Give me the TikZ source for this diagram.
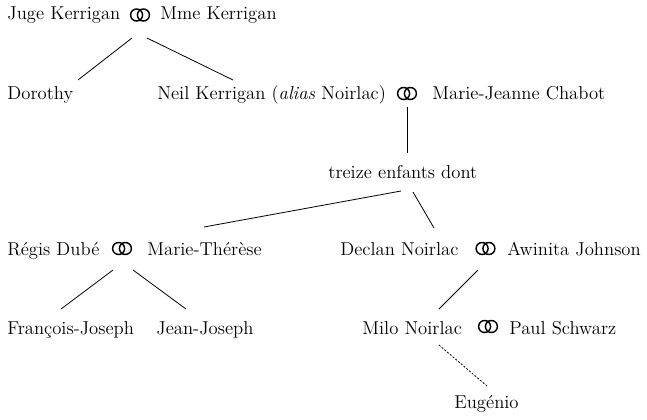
\documentclass[tikz,border=0pt]{standalone}
\usetikzlibrary{calc}

\begin{document}
\begin{tikzpicture}[x=0.75pt,y=-0.75pt, line width=0.6pt,
	pers/.style={inner sep=0pt, anchor=base west, font=\fontsize{14}{17}\selectfont},
	ring/.style={inner sep=0pt, minimum width=16.5pt, minimum height=11pt,
		path picture={
			\draw[line width=1.1pt] ($(path picture bounding box.center)+(-3.4,0)$) circle (6);
			\draw[line width=1.1pt] ($(path picture bounding box.center)+(3.4,0)$) circle (6);}}]
	\useasboundingbox (0,0) rectangle (647,419);
	% generation 1
	\node[pers] (JK) at (7,19.5) {Juge Kerrigan};
	\node[ring] (R1) at (140,15) {};
	\node[pers] (MK) at (160,19.5) {Mme Kerrigan};
	% generation 2
	\node[pers] (DO) at (7,99) {Dorothy};
	\node[pers] (NK) at (157,99) {Neil Kerrigan (\textit{alias} Noirlac)};
	\node[ring] (R2) at (407,93.5) {};
	\node[pers] (MJ) at (432,99) {Marie-Jeanne Chabot};
	\node[pers] (TE) at (328,178) {treize enfants dont};
	\draw ($(R1)+(-8,23)$) -- ($(DO.base west)+(71,-19)$);
	\draw ($(R1)+(7,23)$) -- ($(NK.base west)+(76,-19)$);
	\draw ($(R2)+(0,13.5)$) -- ($(TE.base west)+(79,-25)$);
	% generation 3
	\node[pers] (RD) at (7,255) {Régis Dubé};
	\node[ring] (R3) at (122,248.5) {};
	\node[pers] (MT) at (147,255) {Marie-Thérèse};
	\node[pers] (DN) at (340,255) {Declan Noirlac};
	\node[ring] (R4) at (485.5,248.5) {};
	\node[pers] (AJ) at (507,255) {Awinita Johnson};
	\draw ($(TE.base west)+(73,13)$) -- ($(MT.base west)+(57,-28)$);
	\draw ($(TE.base west)+(85,14)$) -- ($(DN.base west)+(94,-27)$);
	% generation 4
	\node[pers] (FJ) at (7,334) {François-Joseph};
	\node[pers] (JJ) at (156,334) {Jean-Joseph};
	\node[pers] (MN) at (362,334) {Milo Noirlac};
	\node[ring] (R5) at (488,326.5) {};
	\node[pers] (PS) at (509,334) {Paul Schwarz};
	\node[pers] (EU) at (454,408) {Eugénio};
	\draw ($(R3)+(-9,21.5)$) -- ($(FJ.base west)+(54,-25)$);
	\draw ($(R3)+(11,21.5)$) -- ($(JJ.base west)+(30,-25)$);
	\draw ($(R4)+(-7.5,21.5)$) -- ($(MN.base west)+(77,-25)$);
	\draw[dash pattern=on 1.5pt off 1.2pt] ($(R5)+(-49,18.5)$) -- ($(EU.base west)+(33,-22)$);
\end{tikzpicture}
\end{document}
